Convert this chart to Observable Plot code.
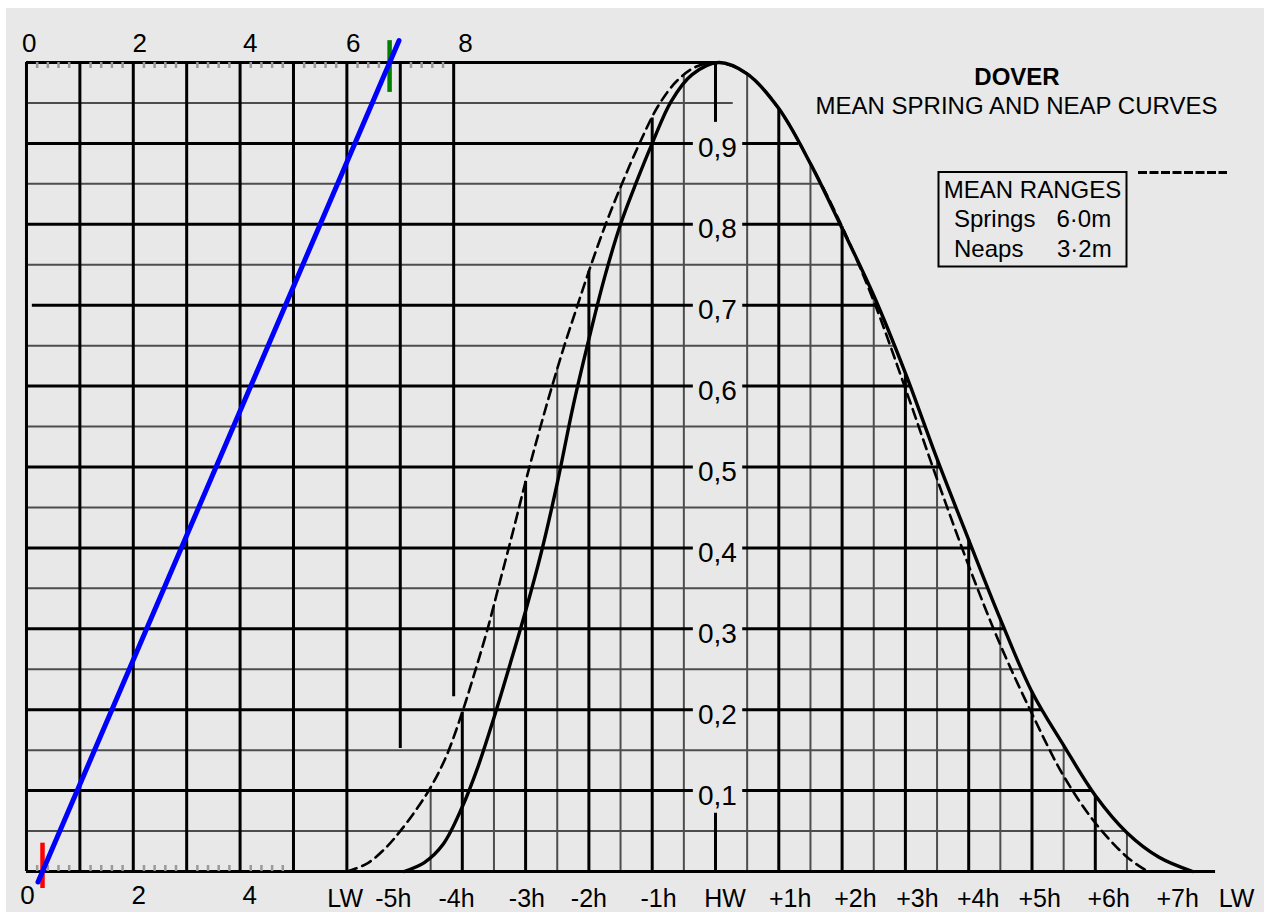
<!DOCTYPE html>
<html>
<head>
<meta charset="utf-8">
<script src="https://cdn.jsdelivr.net/npm/d3@7"></script>
<script src="https://cdn.jsdelivr.net/npm/@observablehq/plot@0.6"></script>
<style>
  html, body { margin: 0; padding: 0; background: #ffffff; overflow: hidden; }
  #panel { position: absolute; left: 6px; top: 8px; width: 1258px; height: 904px; background: #e8e8e8; }
  #chart { position: absolute; left: 0; top: 0; }
  #overlay { position: absolute; left: 0; top: 0; pointer-events: none; }
  svg text { font-family: "Liberation Sans", Arial, sans-serif; }
</style>
</head>
<body>
<div id="panel"></div>
<div id="chart"></div>
<svg id="overlay" width="1264" height="912">
  <text x="1017" y="85" text-anchor="middle" font-size="24" font-weight="bold">DOVER</text>
  <text x="1016.5" y="114" text-anchor="middle" font-size="24">MEAN SPRING AND NEAP CURVES</text>
  <rect x="938.5" y="172" width="188" height="94.5" fill="none" stroke="#000" stroke-width="2"></rect>
  <text x="1032.5" y="198" text-anchor="middle" font-size="24">MEAN RANGES</text>
  <text x="954" y="227" font-size="24">Springs</text>
  <text x="1056.5" y="227" font-size="24">6·0m</text>
  <text x="954" y="257" font-size="24">Neaps</text>
  <text x="1057" y="257" font-size="24">3·2m</text>
  <line x1="1138" y1="172.5" x2="1227" y2="172.5" stroke="#000" stroke-width="3" stroke-dasharray="9,2.5"></line>
</svg>
<script>
// ---------------- DATA ----------------
// Mean spring curve (solid): hours relative to HW, fraction of range
const springHours    = [-4.92, -4.6, -4.3, -4.0, -3.75, -3.5, -3.25, -3.0, -2.75, -2.5, -2.25, -2.0, -1.75, -1.5, -1.25, -1.0, -0.7, -0.37, 0.05, 0.5, 1.0, 1.5, 2.0, 2.5, 3.0, 3.5, 4.0, 4.5, 5.0, 5.5, 6.0, 6.5, 7.0, 7.54];
const springFraction = [0, 0.011, 0.034, 0.08, 0.13, 0.19, 0.255, 0.322, 0.395, 0.48, 0.575, 0.658, 0.735, 0.8, 0.852, 0.9, 0.952, 0.985, 1.0, 0.986, 0.943, 0.875, 0.795, 0.712, 0.616, 0.51, 0.41, 0.312, 0.222, 0.156, 0.094, 0.048, 0.018, 0];

// Mean neap curve (dashed)
const neapHours    = [-5.82, -5.5, -5.2, -5.0, -4.75, -4.5, -4.25, -4.0, -3.8, -3.6, -3.4, -3.2, -3.0, -2.8, -2.6, -2.4, -2.2, -2.0, -1.75, -1.5, -1.2, -0.9, -0.6, -0.3, 0.05, 0.5, 1.0, 1.5, 2.0, 2.5, 3.0, 3.5, 4.0, 4.5, 5.0, 5.5, 6.0, 6.5, 6.83];
const neapFraction = [0, 0.01, 0.03, 0.048, 0.074, 0.104, 0.143, 0.197, 0.247, 0.3, 0.36, 0.42, 0.482, 0.54, 0.595, 0.647, 0.695, 0.742, 0.797, 0.846, 0.9, 0.947, 0.978, 0.995, 1.0, 0.986, 0.943, 0.875, 0.797, 0.705, 0.597, 0.485, 0.378, 0.28, 0.195, 0.118, 0.06, 0.018, 0];

// Time axis labels (below the curve panel)
const hourLabels  = ["LW", "-5h", "-4h", "-3h", "-2h", "-1h", "HW", "+1h", "+2h", "+3h", "+4h", "+5h", "+6h", "+7h", "LW"];
const hourLabelAt = [-5.85, -5.09, -4.09, -2.98, -2.0, -0.9, 0.15, 1.18, 2.21, 3.19, 4.15, 5.12, 6.21, 7.30, 8.23];

// Hour grid lines (whole and half hours)
const wholeHours = [-4, -3, -2, -1, 1, 2, 3, 4, 5, 6];
const halfHours  = [-4.5, -3.5, -2.5, -1.5, -0.5, 0.5, 1.5, 2.5, 3.5, 4.5, 5.5, 6.5];

// Factor scale
const fractionLevels = [0.1, 0.2, 0.3, 0.4, 0.5, 0.6, 0.7, 0.8, 0.9];
const fractionLabels = ["0,1", "0,2", "0,3", "0,4", "0,5", "0,6", "0,7", "0,8", "0,9"];
const minorLevels    = [0.05, 0.15, 0.25, 0.35, 0.45, 0.55, 0.65, 0.75, 0.85, 0.95];

// Height scale (metres) of left panel
const meterGrid       = [0, 1, 2, 3, 4, 5, 6, 7, 8];
const meterGridBottom = [0, 0, 0, 0, 0, 0, 0, 0.152, 0.216];
const topMeterLabels    = ["0", "2", "4", "6", "8"];
const topMeterLabelAt   = [0.05, 2.12, 4.19, 6.12, 8.22];
const bottomMeterLabels  = ["0", "2", "4"];
const bottomMeterLabelAt = [0.02, 2.1, 4.18];

// Worked example: LW height and HW height
const lwHeight = 0.3;
const hwHeight = 6.8;

// ---------------- HELPERS ----------------
const M0 = -10.885, MK = 0.8436;            // metres -> hour-axis units for the left panel
const mToH = m => M0 + m * MK;
const spring = springHours.map((h, i) => ({h, f: springFraction[i]}));
const neap = neapHours.map((h, i) => ({h, f: neapFraction[i]}));
const peakIdx = springFraction.indexOf(d3.max(springFraction));
function fallingHour(f) {
  for (let i = peakIdx; i < spring.length - 1; i++) {
    const a = spring[i], b = spring[i + 1];
    if (a.f >= f && b.f <= f) return a.h + (a.f - f) / (a.f - b.f) * (b.h - a.h);
  }
  return spring[spring.length - 1].h;
}
function interp(H, F, h) {
  if (h <= H[0] || h >= H[H.length - 1]) return 0;
  for (let i = 0; i < H.length - 1; i++) {
    if (h >= H[i] && h <= H[i + 1]) return F[i] + (h - H[i]) / (H[i + 1] - H[i]) * (F[i + 1] - F[i]);
  }
  return 0;
}
const envelope = h => Math.max(interp(springHours, springFraction, h), interp(neapHours, neapFraction, h));
const minorEnd = f => f > 0.94 ? 0.28 : fallingHour(f);
const GAP_L = -0.35, GAP_R = 0.43;          // gap in the factor lines around the labels
const TICK = 6 / 809;
const topTicks = [], bottomTicks = [];
for (let k = 0; k < 8; k++) for (let j = 1; j <= 4; j++) topTicks.push(k + j * 0.2);
for (let k = 0; k < 5; k++) for (let j = 1; j <= 4; j++) bottomTicks.push(k + j * 0.2);

const GRAY = "#4d4d4d";
const chart = Plot.plot({
  width: 1264,
  height: 912,
  margin: 0,
  x: {domain: [-11, 8], range: [18.7, 1221.4], axis: null},
  y: {domain: [0, 1], range: [871, 62], axis: null},
  style: {background: "transparent", fontFamily: "Liberation Sans, Arial, sans-serif", overflow: "visible"},
  marks: [
    // minor factor lines
    Plot.ruleY(minorLevels, {y: d => d, x1: (d, i) => (d > 0.69 && d < 0.71) ? mToH(0.1) : mToH(0), x2: d => minorEnd(d), stroke: GRAY, strokeWidth: 2}),
    // half-hour lines
    Plot.ruleX(halfHours, {x: d => d, y1: 0, y2: d => envelope(d), stroke: GRAY, strokeWidth: 2}),
    // major factor lines (broken around labels)
    Plot.ruleY(fractionLevels, {y: d => d, x1: d => (Math.abs(d - 0.7) < 1e-6 ? mToH(0.11) : mToH(0)), x2: GAP_L, stroke: "#000", strokeWidth: 3}),
    Plot.ruleY(fractionLevels, {y: d => d, x1: GAP_R, x2: d => fallingHour(d), stroke: "#000", strokeWidth: 3}),
    Plot.ruleY([1], {y: d => d, x1: mToH(0), x2: 0.05, stroke: "#000", strokeWidth: 3}),
    Plot.ruleY([0], {y: d => d, x1: mToH(0), x2: 7.9, stroke: "#000", strokeWidth: 3}),
    // metre lines in left panel
    Plot.ruleX(meterGrid, {x: d => mToH(d), y1: (d, i) => meterGridBottom[i], y2: 1, stroke: "#000", strokeWidth: 3}),
    // whole-hour lines
    Plot.ruleX(wholeHours, {x: d => d, y1: 0, y2: d => envelope(d), stroke: "#000", strokeWidth: 3}),
    Plot.ruleX([0], {x: d => d, y1: 0, y2: 0.072, stroke: "#000", strokeWidth: 3}),
    Plot.ruleX([0], {x: d => d, y1: 0.926, y2: 1, stroke: "#000", strokeWidth: 3}),
    // minor height ticks
    Plot.ruleX(topTicks, {x: d => mToH(d), y1: 1, y2: 1 - TICK, stroke: "#9a9a9a", strokeWidth: 2.5}),
    Plot.ruleX(bottomTicks, {x: d => mToH(d), y1: 0, y2: TICK, stroke: "#9a9a9a", strokeWidth: 2.5}),
    // curves
    Plot.line(neap, {x: "h", y: "f", stroke: "#000", strokeWidth: 2.6, strokeDasharray: "10,6", curve: "catmull-rom"}),
    Plot.line(spring, {x: "h", y: "f", stroke: "#000", strokeWidth: 3.4, curve: "catmull-rom"}),
    // LW / HW markers
    Plot.ruleX([lwHeight], {x: d => mToH(d), y1: -0.021, y2: 0.035, stroke: "#ff0000", strokeWidth: 4.5}),
    Plot.ruleX([hwHeight], {x: d => mToH(d), y1: 0.963, y2: 1.027, stroke: "#008000", strokeWidth: 4.5}),
    // range line joining LW height and HW height
    Plot.line([-0.013, 1.027], {x: d => mToH(lwHeight + (hwHeight - lwHeight) * d), y: d => d, stroke: "#0000ff", strokeWidth: 5}),
    // labels
    Plot.text(fractionLabels, {x: 0.03, y: (d, i) => fractionLevels[i], text: d => d, fontSize: 28, lineAnchor: "middle", dy: 5, fill: "#000"}),
    Plot.text(hourLabels, {x: (d, i) => hourLabelAt[i], y: 0, text: d => d, fontSize: 25, lineAnchor: "middle", dy: 27, fill: "#000"}),
    Plot.text(topMeterLabels, {x: (d, i) => mToH(topMeterLabelAt[i]), y: 1, text: d => d, fontSize: 26, lineAnchor: "middle", dy: -19, fill: "#000"}),
    Plot.text(bottomMeterLabels, {x: (d, i) => mToH(bottomMeterLabelAt[i]), y: 0, text: d => d, fontSize: 26, lineAnchor: "middle", dy: 24, fill: "#000"})
  ]
});
document.getElementById("chart").appendChild(chart);
</script>
</body>
</html>
